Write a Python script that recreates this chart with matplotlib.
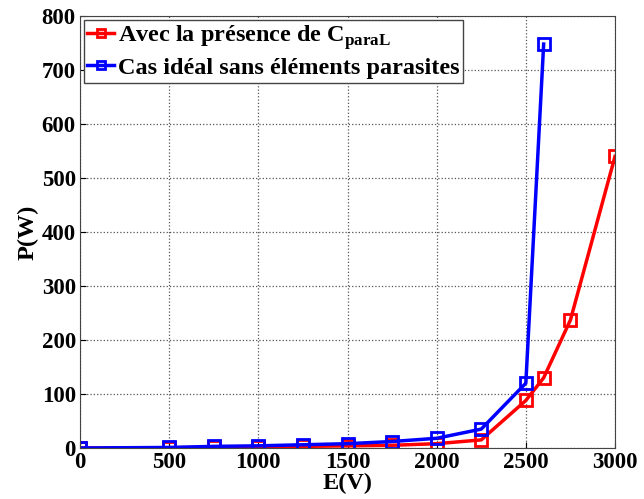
import numpy as np
import matplotlib
matplotlib.use('Agg')
import matplotlib.pyplot as plt

# mesures : puissance en fonction de la tension
e_paral = [0, 500, 750, 1000, 1250, 1500, 1750, 2000, 2250, 2500, 2600, 2750, 3000]
p_paral = [0, 0.5, 1, 2, 3, 4, 5, 8, 15, 88, 130, 237, 540]

e_ideal = [0, 500, 750, 1000, 1250, 1500, 1750, 2000, 2250, 2500, 2600]
p_ideal = [0, 1, 3, 4, 6, 8, 12, 18, 35, 120, 748]

plt.rcParams['font.family'] = 'Liberation Serif'
plt.rcParams['font.weight'] = 'bold'
plt.rcParams['mathtext.fontset'] = 'custom'
plt.rcParams['mathtext.rm'] = 'Liberation Serif:bold'
plt.rcParams['mathtext.bf'] = 'Liberation Serif:bold'

fig = plt.figure(figsize=(6.44, 4.99), dpi=100)
ax = fig.add_axes([80 / 644, 51 / 499, 535 / 644, 432 / 499])

ax.plot(e_paral, p_paral, color='#ff0000', lw=2.5, marker='s', ms=9,
        mfc='none', mew=2, label=r'Avec la présence de C$_{\mathbf{paraL}}$')
ax.plot(e_ideal, p_ideal, color='#0000ff', lw=2.5, marker='s', ms=9,
        mfc='none', mew=2, label='Cas idéal sans éléments parasites')

ax.set_xlim(0, 3000)
ax.set_ylim(0, 800)
ax.set_xticks(np.arange(0, 3001, 500))
ax.set_yticks(np.arange(0, 801, 100))
ax.grid(True, linestyle=':', color='#555555', lw=0.9)
ax.tick_params(labelsize=16.5, direction='in', length=4, pad=3)
for s in ax.spines.values():
    s.set_color('#444444')

ax.set_xlabel('E(V)', fontsize=17.5, fontweight='bold', labelpad=0)
ax.set_ylabel('P(W)', fontsize=17.5, fontweight='bold', labelpad=2)

leg = ax.legend(loc='upper left', fontsize=17.5, handlelength=1.1,
                handletextpad=0.15, borderaxespad=0.15, borderpad=0.15,
                labelspacing=0.2, fancybox=False, framealpha=1)
leg.get_frame().set_edgecolor('#444444')
leg.get_frame().set_linewidth(1)
for h in leg.get_lines():
    h.set_markersize(6)

fig.savefig('out.png', dpi=100)
